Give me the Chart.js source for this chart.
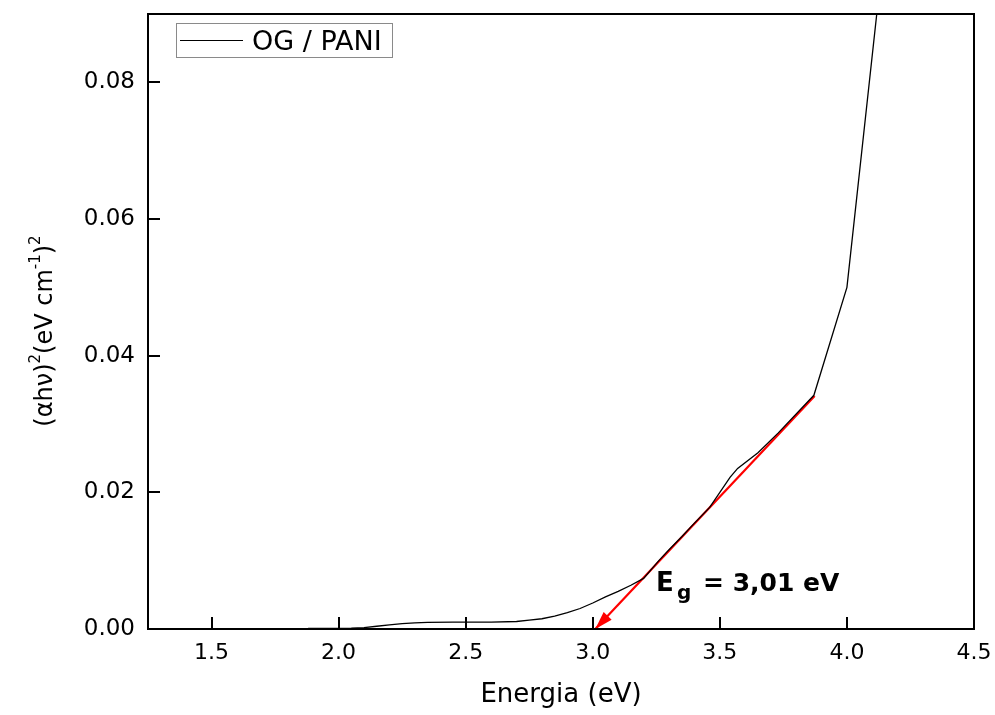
<!DOCTYPE html>
<html>
<head>
<meta charset="utf-8">
<script src="https://cdn.jsdelivr.net/npm/chart.js@4.4.0/dist/chart.umd.min.js"></script>
<style>
  html, body { margin: 0; padding: 0; background: #fff; }
  canvas { display: block; }
</style>
</head>
<body>
<canvas id="chart" width="995" height="715"></canvas>
<script>
// ========== DATA ==========
const energia = [1.88, 1.95, 2.0, 2.05, 2.1, 2.15, 2.2, 2.25, 2.3, 2.35, 2.45, 2.6, 2.7, 2.75, 2.8, 2.85, 2.9, 2.95,
  3.0, 3.05, 3.1, 3.15, 3.2, 3.26, 3.3, 3.35, 3.4, 3.46, 3.54, 3.57, 3.65, 3.73, 3.87, 4.0, 4.13];
const absorcao = [0.00008, 0.0001, 0.0001, 0.00012, 0.0002, 0.0004, 0.0006, 0.0008, 0.0009, 0.00097, 0.001, 0.001, 0.0011, 0.0013, 0.0015, 0.0019, 0.0024, 0.003,
  0.0038, 0.0047, 0.0055, 0.0064, 0.0074, 0.01, 0.0116, 0.0135, 0.0155, 0.0178, 0.0222, 0.0235, 0.0258, 0.0287, 0.0342, 0.05, 0.0943];

// linear fit (tangent) drawn as red arrow
const ajusteX = [3.873, 3.01];
const ajusteY = [0.0341, 0];

const xTicks = [1.5, 2.0, 2.5, 3.0, 3.5, 4.0, 4.5];
const yTicks = [0, 0.02, 0.04, 0.06, 0.08];

const FONT = "'DejaVu Sans', sans-serif";

// ========== PLUGIN: frame, legend, labels, arrow ==========
const extras = {
  id: "extras",
  afterDatasetsDraw(chart) {
    const ctx = chart.ctx;
    const xs = chart.scales.x;
    const ys = chart.scales.y;
    const area = chart.chartArea;

    // arrow head at the Eg point
    const x1 = xs.getPixelForValue(ajusteX[0]), y1 = ys.getPixelForValue(ajusteY[0]);
    const x2 = xs.getPixelForValue(ajusteX[1]), y2 = ys.getPixelForValue(ajusteY[1]);
    const ang = Math.atan2(y2 - y1, x2 - x1);
    const len = 18, half = 5.5;
    ctx.save();
    ctx.fillStyle = "#ff0000";
    ctx.beginPath();
    ctx.moveTo(x2, y2);
    ctx.lineTo(x2 - len * Math.cos(ang) + half * Math.sin(ang), y2 - len * Math.sin(ang) - half * Math.cos(ang));
    ctx.lineTo(x2 - len * Math.cos(ang) - half * Math.sin(ang), y2 - len * Math.sin(ang) + half * Math.cos(ang));
    ctx.closePath();
    ctx.fill();
    ctx.restore();

    // frame
    ctx.save();
    ctx.strokeStyle = "#000";
    ctx.lineWidth = 2;
    ctx.strokeRect(area.left, area.top, area.right - area.left, area.bottom - area.top);
    ctx.restore();

    // legend
    ctx.save();
    ctx.strokeStyle = "#8a8a8a";
    ctx.lineWidth = 1;
    ctx.strokeRect(176.5, 23.5, 216, 34);
    ctx.strokeStyle = "#000";
    ctx.lineWidth = 1.2;
    ctx.beginPath();
    ctx.moveTo(180, 40.5);
    ctx.lineTo(243, 40.5);
    ctx.stroke();
    ctx.fillStyle = "#000";
    ctx.font = "27px " + FONT;
    ctx.textBaseline = "alphabetic";
    ctx.fillText("OG / PANI", 252, 50);
    ctx.restore();

    // Eg annotation
    ctx.save();
    ctx.fillStyle = "#000";
    ctx.textBaseline = "alphabetic";
    ctx.font = "bold 26px " + FONT;
    ctx.fillText("E", 656, 591);
    ctx.font = "bold 20px " + FONT;
    ctx.fillText("g", 677, 599);
    ctx.font = "bold 25px " + FONT;
    ctx.fillText("= 3,01 eV", 703, 591);
    ctx.restore();

    // y axis title (rotated, with superscripts)
    ctx.save();
    ctx.translate(52, 331);
    ctx.rotate(-Math.PI / 2);
    ctx.fillStyle = "#000";
    ctx.textBaseline = "alphabetic";
    const parts = [
      ["(αhν)", 24, 0], ["2", 15, -12], ["(eV cm", 24, 0], ["-1", 15, -12], [")", 24, 0], ["2", 15, -12]
    ];
    let total = 0;
    parts.forEach(p => { ctx.font = p[1] + "px " + FONT; total += ctx.measureText(p[0]).width; });
    let cx = -total / 2;
    parts.forEach(p => {
      ctx.font = p[1] + "px " + FONT;
      ctx.fillText(p[0], cx, p[2]);
      cx += ctx.measureText(p[0]).width;
    });
    ctx.restore();
  }
};

function noPad(scale) {
  scale.paddingTop = 0;
  scale.paddingBottom = 0;
  scale.paddingLeft = 0;
  scale.paddingRight = 0;
}

// ========== CHART ==========
Chart.defaults.color = "#000";
Chart.defaults.font.family = FONT;

new Chart(document.getElementById("chart").getContext("2d"), {
  type: "line",
  data: {
    datasets: [
      {
        label: "OG / PANI",
        data: energia.map((x, i) => ({ x, y: absorcao[i] })),
        borderColor: "#000",
        borderWidth: 1.3,
        pointRadius: 0,
        tension: 0
      },
      {
        label: "ajuste",
        data: ajusteX.map((x, i) => ({ x, y: ajusteY[i] })),
        borderColor: "#ff0000",
        borderWidth: 2.2,
        pointRadius: 0
      }
    ]
  },
  options: {
    responsive: false,
    animation: false,
    devicePixelRatio: 1,
    layout: { padding: { top: 14, right: 21, left: 0, bottom: 0 } },
    plugins: {
      legend: { display: false },
      tooltip: { enabled: false }
    },
    scales: {
      x: {
        type: "linear",
        min: 1.25,
        max: 4.5,
        afterFit(scale) { scale.height = 86; noPad(scale); },
        afterBuildTicks(scale) { scale.ticks = xTicks.map(v => ({ value: v })); },
        ticks: {
          font: { size: 22 },
          padding: 23,
          maxRotation: 0,
          callback: v => v.toFixed(1)
        },
        grid: { drawOnChartArea: false, color: "#000", lineWidth: 2, tickLength: -12 },
        border: { color: "#000", width: 2 },
        title: {
          display: true,
          text: "Energia (eV)",
          font: { size: 26 },
          padding: { top: 0, bottom: 4 }
        }
      },
      y: {
        type: "linear",
        min: 0,
        max: 0.09,
        afterFit(scale) { scale.width = 148; noPad(scale); },
        afterBuildTicks(scale) { scale.ticks = yTicks.map(v => ({ value: v })); },
        ticks: {
          font: { size: 23 },
          padding: 25,
          callback: v => v.toFixed(2)
        },
        grid: { drawOnChartArea: false, color: "#000", lineWidth: 2, tickLength: -12 },
        border: { color: "#000", width: 2 }
      }
    }
  },
  plugins: [extras]
});
</script>
</body>
</html>
